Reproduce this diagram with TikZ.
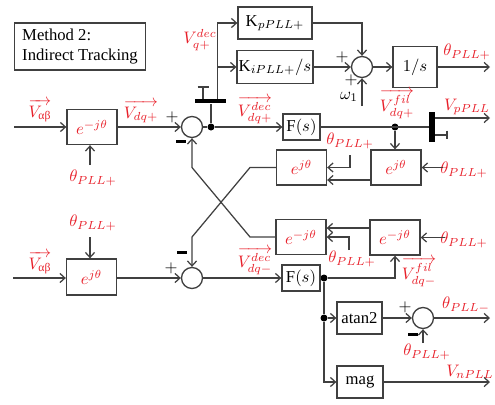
\documentclass[tikz,border=0pt]{standalone}
\usepackage{amsmath}
\usepackage{fontspec}
\setmainfont{Liberation Serif}
\usetikzlibrary{arrows.meta}
\definecolor{sigred}{RGB}{232,32,42}
\definecolor{wire}{RGB}{64,64,64}
\tikzset{
  blk/.style={draw=wire, line width=0.8pt, inner sep=1pt},
  rotbox/.style={blk, minimum width=30pt, minimum height=21pt, text=sigred},
  sumc/.style={draw=wire, line width=0.8pt, circle, minimum size=12.6pt, inner sep=0pt},
  conn/.style={draw=wire, line width=0.75pt, -{Straight Barb[length=3pt,width=5.5pt]}},
  wireln/.style={draw=wire, line width=0.75pt},
  sig/.style={text=sigred, inner sep=0pt},
  dotc/.style={circle, fill=black, minimum size=4.2pt, inner sep=0pt},
  minus/.style={inner sep=0pt}
}
\begin{document}
\begin{tikzpicture}[x=0.6pt, y=-0.6pt, every node/.style={font=\normalsize}]
\useasboundingbox (0,0) rectangle (495,404);
% Title box
\node[blk, minimum width=78.6pt, minimum height=28.2pt, align=left, inner sep=3pt] (method) at (80,46.5) {Method 2:\\Indirect Tracking};
% Row one: positive sequence, Park transform and decoupling
\coordinate (inA) at (14,127);
\node[rotbox] (rotA) at (92,127) {$e^{-j\theta}$};
\coordinate (thAin) at (90,165);
\node[sig] (thA) at (93,178) {$\theta_{PLL+}$};
\node[sig] (vabA) at (40,111) {$\overrightarrow{V_{\text{αβ}}}$};
\node[sig] (vdqp) at (141,112) {$\overrightarrow{V_{dq+}}$};
\node[sumc] (sum1) at (192,127) {};
\node (plus1) at (172,117) {$+$};
\node[minus] (minus1) at (181,141) {\rule{6pt}{1.8pt}};
\node[dotc] (dot1) at (211,127) {};
\draw[conn] (inA) -- (rotA.west);
\draw[conn] (thAin) -- (thAin |- rotA.south);
\draw[conn] (rotA.east) -- (sum1.west);
\draw[wireln] (sum1.east) -- (dot1);
% The q tap, the PI and the integrator
\node[fill=black, minimum width=18.6pt, minimum height=2.6pt, inner sep=0pt] (bar1) at (210.5,101) {};
\coordinate (tee1) at (203,87);
\coordinate (qtap) at (217.5,101);
\node[sig] (vqdec) at (200,40) {$V_{q+}^{dec}$};
\node[blk, minimum width=44.4pt, minimum height=19.2pt] (kp) at (275,23) {$\mathrm{K}_{pPLL+}$};
\node[blk, minimum width=44.4pt, minimum height=19.8pt] (ki) at (275,67) {$\mathrm{K}_{iPLL+}/s$};
\node[sumc] (sum2) at (362,67) {};
\node (plus2a) at (342,57) {$+$};
\node (plus2b) at (351,80) {$+$};
\node (w1) at (349,97) {$\omega_1$};
\coordinate (w1in) at (362,106);
\node[blk, minimum width=26.4pt, minimum height=24.6pt] (integ) at (415,67) {$1/s$};
\coordinate (thout) at (490,67);
\node[sig] (thPout) at (467,52) {$\theta_{PLL+}$};
\draw[wireln] (dot1) -- (dot1 |- bar1.south);
\draw[wireln] (tee1 |- bar1.north) -- (tee1);
\draw[wireln] ([xshift=-3.3pt]tee1) -- ([xshift=3.3pt]tee1);
\draw[conn] (qtap |- bar1.north) |- (kp.west);
\draw[conn] (qtap |- ki.west) -- (ki.west);
\draw[conn] (kp.east) -| (sum2.north);
\draw[conn] (ki.east) -- (sum2.west);
\draw[conn] (w1in) -- (sum2.south);
\draw[conn] (sum2.east) -- (integ.west);
\draw[conn] (integ.east) -- (thout);
% Row one, filter and positive output
\node[sig] (vdqpdec) at (255,110) {$\overrightarrow{V_{dq+}^{dec}}$};
\node[blk, minimum width=22.2pt, minimum height=15.6pt] (fs1) at (301.5,127) {$\mathrm{F}(s)$};
\node[dotc] (dot2) at (395,127) {};
\node[sig] (vdqpfil) at (397,104) {$\overrightarrow{V_{dq+}^{fil}}$};
\node[fill=black, minimum width=3.6pt, minimum height=18pt, inner sep=0pt] (bar2) at (432,127) {};
\coordinate (vpout) at (490,118);
\coordinate (tee2) at (447,135);
\node[sig] (vppll) at (467,107) {$V_{pPLL}$};
\draw[conn] (dot1) -- (fs1.west);
\draw[wireln] (fs1.east) -- (bar2.west);
\draw[conn] (bar2.east |- vpout) -- (vpout);
\draw[wireln] (bar2.east |- tee2) -- (tee2);
\draw[wireln] ([yshift=2.6pt]tee2) -- ([yshift=-2.6pt]tee2);
% Row two: rotate the filtered positive part back
\node[rotbox] (rotB2) at (396,167.5) {$e^{j\theta}$};
\node[rotbox] (rotB1) at (301.5,167.5) {$e^{j\theta}$};
\coordinate (thB2in) at (443,167.5);
\node[sig] (thB2) at (464,170) {$\theta_{PLL+}$};
\node[sig] (thB1) at (350,141) {$\theta_{PLL+}$};
\coordinate (thB1in) at (350,155);
\draw[conn] (dot2) -- (dot2 |- rotB2.north);
\draw[conn] (thB2in) -- (rotB2.east);
\draw[conn] ([yshift=-7.5pt]rotB2.west) -- ([yshift=-7.5pt]rotB1.east);
\draw[conn] (thB1in) |- (rotB1.east);
% Row three: rotate the filtered negative part back
\node[rotbox] (rotC2) at (395,237.5) {$e^{-j\theta}$};
\node[rotbox] (rotC1) at (301,237) {$e^{-j\theta}$};
\coordinate (thC2in) at (445,237.5);
\node[sig] (thC2) at (464,240) {$\theta_{PLL+}$};
\coordinate (thC1in) at (349,250);
\node[sig] (thC1) at (352,259) {$\theta_{PLL+}$};
\draw[conn] (thC2in) -- (rotC2.east);
\draw[conn] ([yshift=5.7pt]rotC2.west) -- ([yshift=5.7pt]rotC1.east |- rotC2.west);
\draw[conn] (thC1in) |- (rotC1.east);
% Row four: negative sequence
\coordinate (inD) at (13,278);
\node[rotbox, minimum height=21.6pt] (rotD) at (91.5,277) {$e^{j\theta}$};
\coordinate (thDin) at (90,237);
\node[sig] (thD) at (93,223) {$\theta_{PLL+}$};
\node[sig] (vabD) at (40,263) {$\overrightarrow{V_{\text{αβ}}}$};
\node[sumc] (sum3) at (192,278) {};
\node (plus3) at (171,268) {$+$};
\node[minus] (minus3) at (182,252) {\rule{6pt}{1.8pt}};
\node[sig] (vdqmdec) at (255,261) {$\overrightarrow{V_{dq-}^{dec}}$};
\node[blk, minimum width=22.8pt, minimum height=15.6pt] (fs2) at (301,278) {$\mathrm{F}(s)$};
\node[dotc] (dot3) at (324,278) {};
\node[sig] (vdqmfil) at (419,272) {$\overrightarrow{V_{dq-}^{fil}}$};
\draw[conn] (inD) -- (rotD.west |- inD);
\draw[conn] (thDin) -- (thDin |- rotD.north);
\draw[conn] (rotD.east |- sum3) -- (sum3.west);
\draw[conn] (sum3.east) -- (fs2.west);
\draw[wireln] (fs2.east) -- (dot3);
\draw[conn] (dot3) -| (rotC2.south);
% The cross: each rotated part is taken off the other sequence
\coordinate (xa) at (250,167.5);
\coordinate (xb) at (192,237);
\coordinate (xc) at (250,237);
\coordinate (xd) at (192,167.5);
\draw[conn] (rotB1.west) -- (xa) -- (xb) -- (sum3.north);
\draw[conn] (rotC1.west) -- (xc) -- (xd) -- (sum1.south);
% Negative outputs: angle and magnitude
\node[dotc] (dot4) at (324,318) {};
\node[blk, minimum width=27pt, minimum height=19.2pt] (atan) at (359.5,318) {atan2};
\node[sumc] (sum4) at (423,318) {};
\node (plus4) at (405,307) {$+$};
\node[minus] (minus4) at (413,334) {\rule{6pt}{1.8pt}};
\coordinate (thEin) at (423,343);
\node[sig] (thE) at (427,352) {$\theta_{PLL+}$};
\coordinate (thmout) at (490,318);
\node[sig] (thPm) at (466,305) {$\theta_{PLL-}$};
\node[blk, minimum width=27.6pt, minimum height=19.2pt] (mag) at (360,382) {mag};
\coordinate (vnout) at (490,382);
\node[sig] (vnpll) at (470,372) {$V_{nPLL}$};
\draw[wireln] (dot3) -- (dot4);
\draw[conn] (dot4) |- (mag.west);
\draw[conn] (dot4) -- (atan.west);
\draw[conn] (atan.east) -- (sum4.west);
\draw[conn] (thEin) -- (sum4.south);
\draw[conn] (sum4.east) -- (thmout);
\draw[conn] (mag.east) -- (vnout);
\end{tikzpicture}
\end{document}
